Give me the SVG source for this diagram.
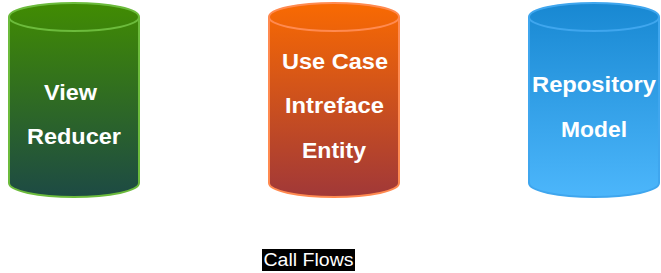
<svg xmlns="http://www.w3.org/2000/svg" width="661" height="273" viewBox="0 0 661 273">
  <defs>
    <linearGradient id="gGreen" x1="0" y1="0" x2="0" y2="1">
      <stop offset="0" stop-color="#418c02"/>
      <stop offset="1" stop-color="#1d4a44"/>
    </linearGradient>
    <linearGradient id="gOrange" x1="0" y1="0" x2="0" y2="1">
      <stop offset="0" stop-color="#f96a02"/>
      <stop offset="1" stop-color="#a13838"/>
    </linearGradient>
    <linearGradient id="gBlue" x1="0" y1="0" x2="0" y2="1">
      <stop offset="0" stop-color="#1888d2"/>
      <stop offset="1" stop-color="#4cb6fb"/>
    </linearGradient>
  </defs>
  <style>
    .lbl { font-family: "Liberation Sans", Arial, sans-serif; font-weight: bold; font-size: 21.5px; fill: #ffffff; text-anchor: middle; }
    .cyl { stroke-width: 2; }
    .conn { stroke: #ffffff; stroke-width: 1; fill: none; }
  </style>

  <rect width="661" height="273" fill="#ffffff"/>

  <g id="connectors">
    <line class="conn" x1="139" y1="101" x2="269" y2="101"/>
    <line class="conn" x1="399" y1="101" x2="529" y2="101"/>
  </g>

  <g id="view">
    <path class="cyl" fill="url(#gGreen)" stroke="#6cbb3c" d="M9 17 A65 14 0 0 1 139 17 L139 183 A65 14 0 0 1 9 183 Z"/>
    <path fill="none" stroke="#6cbb3c" stroke-width="2" d="M9 17 A65 14 0 0 0 139 17"/>
    <text class="lbl" x="70.5" y="99.5" textLength="53" lengthAdjust="spacingAndGlyphs">View</text>
    <text class="lbl" x="74" y="144" textLength="94" lengthAdjust="spacingAndGlyphs">Reducer</text>
  </g>

  <g id="usecase">
    <path class="cyl" fill="url(#gOrange)" stroke="#ff8a50" d="M269 17 A65 14 0 0 1 399 17 L399 183 A65 14 0 0 1 269 183 Z"/>
    <path fill="none" stroke="#ff8a50" stroke-width="2" d="M269 17 A65 14 0 0 0 399 17"/>
    <text class="lbl" x="335" y="68.5" textLength="106" lengthAdjust="spacingAndGlyphs">Use Case</text>
    <text class="lbl" x="334.5" y="113" textLength="99" lengthAdjust="spacingAndGlyphs">Intreface</text>
    <text class="lbl" x="334" y="157.5" textLength="64" lengthAdjust="spacingAndGlyphs">Entity</text>
  </g>

  <g id="repository">
    <path class="cyl" fill="url(#gBlue)" stroke="#3fa6ee" d="M529 17 A65 14 0 0 1 659 17 L659 183 A65 14 0 0 1 529 183 Z"/>
    <path fill="none" stroke="#3fa6ee" stroke-width="2" d="M529 17 A65 14 0 0 0 659 17"/>
    <text class="lbl" x="594" y="92" textLength="124" lengthAdjust="spacingAndGlyphs">Repository</text>
    <text class="lbl" x="594" y="137" textLength="66" lengthAdjust="spacingAndGlyphs">Model</text>
  </g>

  <g id="callflows">
    <rect x="262" y="249" width="93" height="22" fill="#000000"/>
    <text x="308.5" y="266" font-family="Liberation Sans, Arial, sans-serif" font-size="18" fill="#ffffff" text-anchor="middle" textLength="90" lengthAdjust="spacingAndGlyphs">Call Flows</text>
  </g>
</svg>
